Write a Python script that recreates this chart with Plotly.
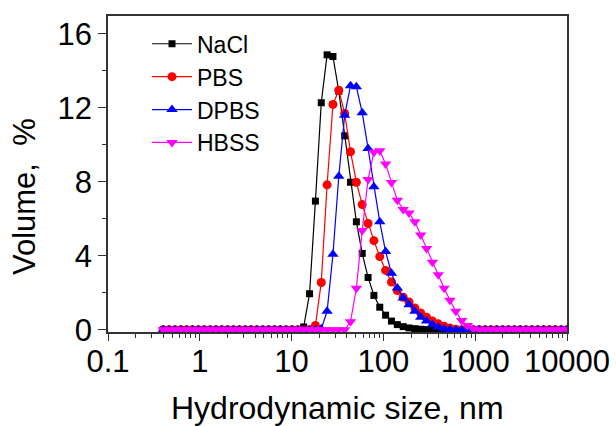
import plotly.graph_objects as go

# Hydrodynamic size bins (nm)
size_nm = [0.4, 0.4632, 0.5365, 0.6213, 0.7195, 0.8332, 0.965, 1.117, 1.294, 1.499,
           1.736, 2.01, 2.328, 2.696, 3.122, 3.615, 4.187, 4.849, 5.615, 6.503,
           7.531, 8.721, 10.1, 11.7, 13.54, 15.69, 18.17, 21.04, 24.36, 28.21,
           32.67, 37.84, 43.82, 50.75, 58.77, 68.06, 78.82, 91.28, 105.7, 122.4,
           141.8, 164.2, 190.1, 220.2, 255.0, 295.3, 342.0, 396.1, 458.7, 531.2,
           615.1, 712.4, 825.0, 955.4, 1106, 1281, 1484, 1718, 1990, 2305,
           2669, 3091, 3580, 4145, 4801, 5560, 6439, 7456, 8635, 10000]

nacl = [0, 0, 0, 0, 0, 0, 0, 0, 0, 0,
        0, 0, 0, 0, 0, 0, 0, 0, 0, 0,
        0, 0, 0, 0, 0.15, 1.95, 6.96, 12.28, 14.87, 14.78,
        12.9, 10.49, 7.98, 5.84, 4.13, 2.83, 1.86, 1.22, 0.79, 0.47,
        0.28, 0.17, 0.1, 0.06, 0.03, 0.01, 0, 0, 0, 0,
        0, 0, 0, 0, 0, 0, 0, 0, 0, 0,
        0, 0, 0, 0, 0, 0, 0, 0, 0, 0]

pbs = [0, 0, 0, 0, 0, 0, 0, 0, 0, 0,
       0, 0, 0, 0, 0, 0, 0, 0, 0, 0,
       0, 0, 0, 0, 0, 0, 0.23, 2.56, 7.84, 12.19,
       12.96, 11.7, 9.63, 7.98, 6.77, 5.75, 4.82, 3.96, 3.21, 2.58,
       2.12, 1.76, 1.5, 1.18, 0.91, 0.68, 0.47, 0.32, 0.19, 0.09,
       0.03, 0, 0, 0, 0, 0, 0, 0, 0, 0,
       0, 0, 0, 0, 0, 0, 0, 0, 0, 0]

dpbs = [0, 0, 0, 0, 0, 0, 0, 0, 0, 0,
        0, 0, 0, 0, 0, 0, 0, 0, 0, 0,
        0, 0, 0, 0, 0, 0, 0, 0.05, 1.0, 4.08,
        8.3, 11.6, 13.2, 13.14, 11.74, 9.81, 7.73, 5.84, 4.23, 3.06,
        2.26, 1.72, 1.36, 1.0, 0.68, 0.47, 0.28, 0.15, 0.06, 0.02,
        0, 0, 0, 0, 0, 0, 0, 0, 0, 0,
        0, 0, 0, 0, 0, 0, 0, 0, 0, 0]

hbss = [0, 0, 0, 0, 0, 0, 0, 0, 0, 0,
        0, 0, 0, 0, 0, 0, 0, 0, 0, 0,
        0, 0, 0, 0, 0, 0, 0, 0, 0, 0,
        0, 0, 0.43, 2.25, 5.37, 8.13, 9.6, 9.68, 8.97, 7.97,
        7.0, 6.51, 6.32, 5.84, 5.12, 4.4, 3.65, 2.97, 2.25, 1.6,
        1.0, 0.5, 0.23, 0.05, 0, 0, 0, 0, 0, 0,
        0, 0, 0, 0, 0, 0, 0, 0, 0, 0]

series_names = ["NaCl", "PBS", "DPBS", "HBSS"]
series_values = [nacl, pbs, dpbs, hbss]
colors = ["#000000", "#FF0000", "#0000FF", "#FF00FF"]
symbols = ["square", "circle", "triangle-up", "triangle-down"]
sizes = [7, 9, 10, 10]

x_tickvals = [0.1, 1, 10, 100, 1000, 10000]
x_ticktext = ["0.1", "1", "10", "100", "1000", "10000"]
y_tickvals = [0, 4, 8, 12, 16]

FONT = "Liberation Sans, Arial, sans-serif"
AX = "#333333"

fig = go.Figure()
for name, vals, c, s, ms in zip(series_names, series_values, colors, symbols, sizes):
    fig.add_trace(go.Scatter(
        x=size_nm, y=vals, name=name, mode="lines+markers",
        line=dict(color=c, width=1.2),
        marker=dict(symbol=s, size=ms, color=c, line=dict(width=0)),
    ))

fig.update_layout(
    width=616, height=426,
    margin=dict(l=108, r=49, t=16, b=94, autoexpand=False),
    paper_bgcolor="white", plot_bgcolor="white",
    font=dict(family=FONT, size=26, color="black"),
    showlegend=True,
    legend=dict(x=0.085, y=0.98, xanchor="left", yanchor="top",
                bgcolor="rgba(0,0,0,0)", font=dict(size=23, family=FONT),
                itemwidth=40, tracegroupgap=0),
)

fig.update_xaxes(
    type="log", range=[-1, 4], automargin=False,
    tickvals=x_tickvals, ticktext=x_ticktext,
    ticks="outside", ticklen=7, tickwidth=1.2, tickcolor=AX,
    minor=dict(ticks="outside", ticklen=4, tickwidth=1, tickcolor=AX, dtick="D1", showgrid=False),
    showline=True, linecolor=AX, linewidth=1.5, mirror=True,
    showgrid=False, zeroline=False,
    tickfont=dict(size=31, family=FONT),
    ticklabelstandoff=-6,
)
fig.update_yaxes(
    range=[-0.12, 16.97], automargin=False,
    tickvals=y_tickvals,
    ticks="outside", ticklen=8, tickwidth=1.2, tickcolor=AX,
    minor=dict(ticks="outside", ticklen=4, tickwidth=1, tickcolor=AX, tickvals=[2, 6, 10, 14], showgrid=False),
    showline=True, linecolor=AX, linewidth=1.5, mirror=True,
    showgrid=False, zeroline=False,
    tickfont=dict(size=31, family=FONT),
)

fig.add_annotation(text="Hydrodynamic size, nm", xref="paper", yref="paper",
                   x=0.5, y=-0.24, xanchor="center", yanchor="middle",
                   showarrow=False, font=dict(size=32, family=FONT))
fig.add_annotation(text="Volume,  %", xref="paper", yref="paper",
                   x=-0.183, y=0.427, xanchor="center", yanchor="middle",
                   textangle=-90, showarrow=False, font=dict(size=31, family=FONT))

fig.write_html("out.html")
